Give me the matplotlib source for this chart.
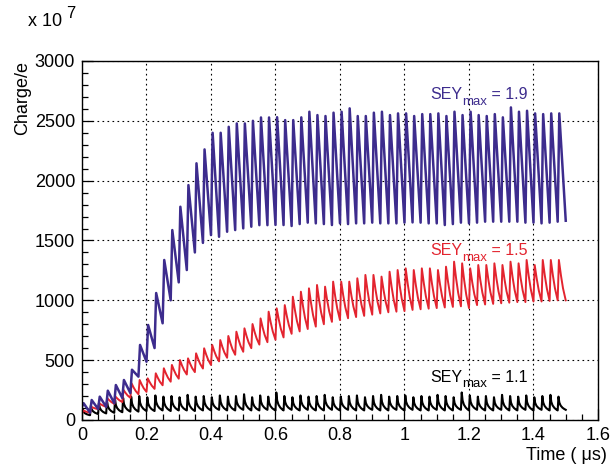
import matplotlib.pyplot as plt
from matplotlib.ticker import MultipleLocator
from matplotlib.transforms import offset_copy

plt.rcParams['font.family'] = ['Liberation Sans', 'DejaVu Sans']

# spacing between bunch passages (us), one spike per passage
period = 0.025

# charge in units of 1e7 e: trough before each spike, spike top
purple_peaks = [140, 167, 195, 245, 292, 334, 420, 627, 794, 1061, 1337, 1587, 1782, 1963, 2145,
                2261, 2400, 2400, 2450, 2478, 2478, 2500, 2528, 2528, 2530,
                2506, 2506, 2529, 2576, 2548, 2540, 2568, 2576, 2604, 2540, 2540, 2568, 2576, 2548,
                2562, 2562, 2540, 2556, 2556, 2562, 2540, 2576, 2548, 2576, 2548, 2540, 2556, 2529,
                2612, 2576, 2584, 2562, 2556, 2562, 2562]
purple_troughs = [110, 61, 92, 109, 140, 184, 225, 362, 487, 601, 808, 1000, 1150, 1253, 1400,
                  1480, 1545, 1531, 1573, 1587, 1601, 1615, 1628, 1628, 1630,
                  1629, 1621, 1637, 1649, 1643, 1637, 1629, 1643, 1637, 1643, 1643, 1649, 1643, 1643,
                  1643, 1649, 1651, 1649, 1643, 1643, 1629, 1637, 1649, 1643, 1649, 1657, 1657, 1657,
                  1657, 1657, 1649, 1649, 1643, 1649, 1657, 1665]

red_peaks = [80, 110, 139, 181, 195, 251, 306, 334, 348, 390, 432, 460, 501, 515, 557, 599, 627,
             668, 702, 738, 766, 802, 849, 905, 933,
             960, 1030, 1072, 1100, 1128, 1114, 1156, 1156, 1156, 1184, 1212, 1212, 1198, 1239,
             1253, 1267, 1253, 1267, 1267, 1253, 1281, 1323, 1309, 1267, 1295, 1295, 1309, 1295,
             1323, 1309, 1337, 1295, 1337, 1337, 1337]
red_troughs = [50, 60, 90, 110, 135, 150, 185, 215, 235, 260, 290, 320, 345, 380, 400, 430, 460,
               490, 520, 545, 570, 600, 630, 650, 670, 690, 720, 740, 760, 780, 800, 820, 835,
               850, 860, 870, 880, 890, 900, 905, 910, 920, 925, 930, 935, 940, 945, 950, 935,
               960, 965, 970, 975, 980, 985, 985, 990, 990, 995, 1000, 1000]

black_peaks = [90, 120, 140, 160, 170, 185, 195, 200, 190, 205, 195, 200, 190, 210, 195, 200, 190,
               205, 195, 200, 215, 190, 205, 195, 230, 200, 190, 205, 195, 200, 210, 190, 195,
               200, 205, 190, 200, 210, 195, 200, 205, 190, 200, 195, 210, 200, 190, 230, 205,
               195, 200, 190, 210, 200, 195, 205, 190, 200, 210, 195]
black_troughs = [60, 40, 50, 55, 60, 65, 70, 70, 75, 75, 80, 75, 80, 80, 75, 80, 80, 85, 80, 80,
                 85, 80, 80, 85, 80, 80, 85, 80, 85, 80, 80, 85, 80, 85, 80, 80, 85, 80, 80, 85,
                 80, 85, 80, 80, 85, 80, 80, 85, 80, 85, 80, 80, 85, 80, 80, 85, 80, 85, 80, 80, 85]

sey_values = ['1.9', '1.5', '1.1']


def sawtooth(peaks, troughs, rise, decay):
    # decay: (fraction of remaining cycle, fraction of peak-trough height) pairs
    t, q = [], []
    for i, pk in enumerate(peaks):
        t0 = i * period
        t.append(t0)
        q.append(troughs[i])
        t.append(t0 + rise * period)
        q.append(pk)
        for ft, fq in decay:
            t.append(t0 + (rise + (1 - rise) * ft) * period)
            q.append(troughs[i + 1] + (pk - troughs[i + 1]) * fq)
    t.append(len(peaks) * period)
    q.append(troughs[-1])
    return t, q


def sey_label(ax, x, y, value, color):
    # ROOT-style label: SEY, a big lowered "max", then the value
    r = ax.figure.canvas.get_renderer()
    t1 = ax.text(x, y, 'SEY', color=color, fontsize=11.5, va='baseline')
    w1 = t1.get_window_extent(r).width * 72 / ax.figure.dpi
    tr2 = offset_copy(ax.transData, fig=ax.figure, x=w1, y=-4, units='points')
    t2 = ax.text(x, y, 'max', color=color, fontsize=9.5, va='baseline', transform=tr2)
    w2 = t2.get_window_extent(r).width * 72 / ax.figure.dpi
    tr3 = offset_copy(ax.transData, fig=ax.figure, x=w1 + w2, y=0, units='points')
    ax.text(x, y, ' = ' + value, color=color, fontsize=11.5, va='baseline', transform=tr3)


fig = plt.figure(figsize=(6.11, 4.68), dpi=100)
ax = fig.add_axes([0.1342, 0.1026, 0.8445, 0.7671])

tb, qb = sawtooth(black_peaks, black_troughs, 0.1,
                  [(0.12, 0.55), (0.3, 0.32), (0.55, 0.16), (0.8, 0.06)])
tr, qr = sawtooth(red_peaks, red_troughs, 0.15, [(0.3, 0.62), (0.6, 0.3)])
tp, qp = sawtooth(purple_peaks, purple_troughs, 0.2, [])

ax.plot(tb, qb, color='black', lw=1.5)
ax.plot(tr, qr, color='#e3242f', lw=1.4)
ax.plot(tp, qp, color='#3d2c8d', lw=1.8)

ax.set_xlim(0, 1.6)
ax.set_ylim(0, 3000)

sey_label(ax, 1.08, 2680, sey_values[0], '#3d2c8d')
sey_label(ax, 1.08, 1375, sey_values[1], '#e3242f')
sey_label(ax, 1.08, 320, sey_values[2], 'black')

ax.xaxis.set_minor_locator(MultipleLocator(0.05))
ax.yaxis.set_major_locator(MultipleLocator(500))
ax.yaxis.set_minor_locator(MultipleLocator(100))
ax.set_xticks([0, 0.2, 0.4, 0.6, 0.8, 1.0, 1.2, 1.4, 1.6])
ax.set_xticklabels(['0', '0.2', '0.4', '0.6', '0.8', '1', '1.2', '1.4', '1.6'])
ax.tick_params(which='both', direction='in', labelsize=13, top=False, right=False)
ax.tick_params(which='major', length=8, width=0.9, pad=5)
ax.tick_params(which='minor', length=4, width=0.9)
ax.grid(True, which='major', color='black', linestyle=(0, (1.5, 3)), lw=0.8)

for s in ax.spines.values():
    s.set_linewidth(1.0)

ax.set_xlabel('Time ( \u03bcs)', fontsize=13)
ax.xaxis.set_label_coords(1.018, -0.075)
ax.xaxis.label.set_ha('right')
ax.set_ylabel('Charge/e', fontsize=13)
ax.yaxis.set_label_coords(-0.132, 1.0)
ax.yaxis.label.set_va('top')
ax.yaxis.label.set_ha('right')
fig.text(0.046, 0.955, 'x 10', fontsize=13, va='center')
fig.text(0.108, 0.972, '7', fontsize=12, va='center')

fig.savefig('out.png', dpi=100)
